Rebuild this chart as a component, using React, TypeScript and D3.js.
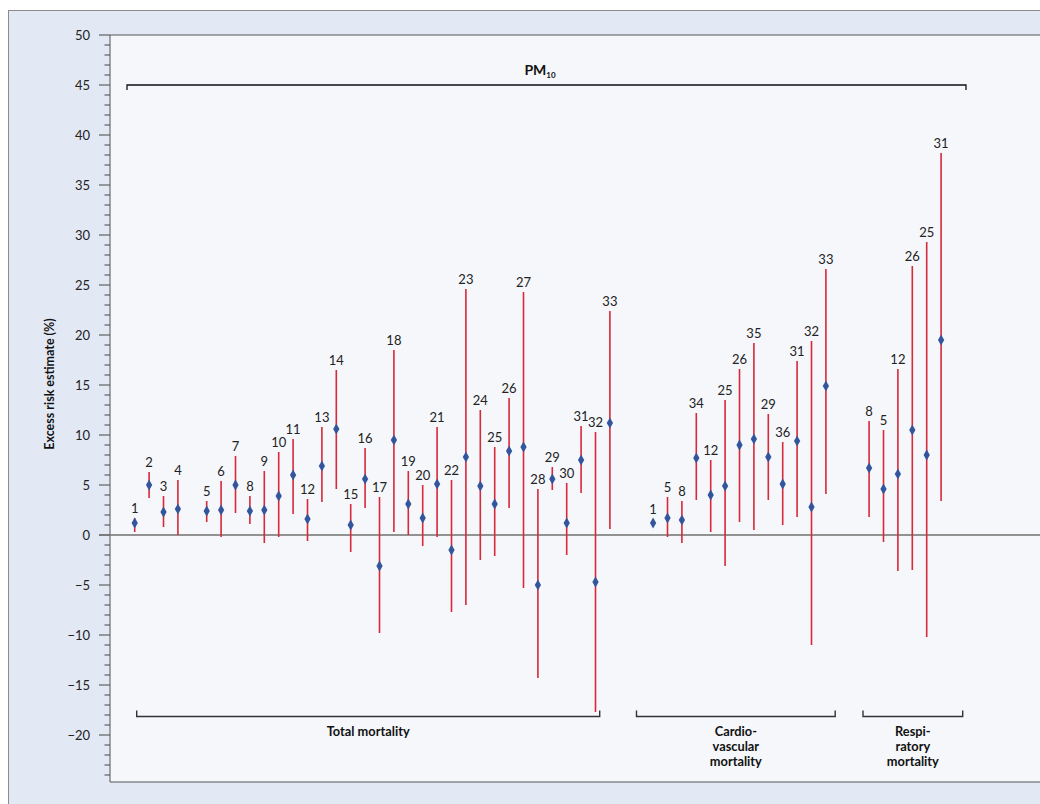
import React from "react";
import * as d3 from "d3";

// ---- Data ----
// Total mortality (null = empty slot)
const totalStudy = ["1","2","3","4",null,"5","6","7","8","9","10","11","12","13","14","15","16","17","18","19","20","21","22","23","24","25","26","27","28","29","30","31","32","33"];
const totalEst = [1.2,5.0,2.3,2.6,null,2.4,2.5,5.0,2.4,2.5,3.9,6.0,1.6,6.9,10.6,1.0,5.6,-3.1,9.5,3.1,1.7,5.1,-1.5,7.8,4.9,3.1,8.4,8.8,-5.0,5.6,1.2,7.5,-4.7,11.2];
const totalLo = [0.3,3.7,0.8,0.0,null,1.3,-0.2,2.2,1.1,-0.8,-0.2,2.1,-0.6,3.3,4.6,-1.7,2.7,-9.8,0.3,0.0,-1.1,-0.2,-7.7,-7.0,-2.5,-2.1,2.7,-5.3,-14.3,4.5,-2.0,4.2,-17.7,0.6];
const totalHi = [1.7,6.3,3.9,5.5,null,3.4,5.4,7.9,3.9,6.4,8.3,9.6,3.6,10.8,16.5,3.1,8.7,3.8,18.5,6.4,5.0,10.8,5.5,24.6,12.5,8.8,13.7,24.3,4.6,6.8,5.2,10.9,10.3,22.4];

// Cardiovascular mortality
const cvStudy = ["1","5","8","34","12","25","26","35","29","36","31","32","33"];
const cvEst = [1.2,1.7,1.5,7.7,4.0,4.9,9.0,9.6,7.8,5.1,9.4,2.8,14.9];
const cvLo = [0.8,-0.2,-0.8,3.5,0.3,-3.1,1.3,0.5,3.5,1.0,1.8,-11.0,4.1];
const cvHi = [1.6,3.8,3.4,12.2,7.5,13.5,16.6,19.2,12.1,9.3,17.4,19.4,26.6];

// Respiratory mortality
const respStudy = ["8","5","12","26","25","31"];
const respEst = [6.7,4.6,6.1,10.5,8.0,19.5];
const respLo = [1.8,-0.7,-3.6,-3.5,-10.2,3.4];
const respHi = [11.4,10.5,16.6,26.9,29.3,38.2];

const groupNames = ["Total mortality", "Cardio-\nvascular\nmortality", "Respi-\nratory\nmortality"];
const yTicksMajor = [-20,-15,-10,-5,0,5,10,15,20,25,30,35,40,45,50];
const yTitle = "Excess risk estimate (%)";
const pollutant = "PM";
const pollutantSub = "10";

// ---- Build slot domain ----
type Pt = { key: string; label: string; est: number; lo: number; hi: number };
type Group = { name: string; keys: string[]; pts: Pt[] };

function buildGroup(prefix: string, name: string, study: (string|null)[], est: (number|null)[], lo: (number|null)[], hi: (number|null)[]): Group {
  const keys: string[] = [];
  const pts: Pt[] = [];
  study.forEach((s, i) => {
    const key = `${prefix}${i}`;
    keys.push(key);
    if (s !== null) pts.push({ key, label: s, est: est[i] as number, lo: lo[i] as number, hi: hi[i] as number });
  });
  return { name, keys, pts };
}

const groups: Group[] = [
  buildGroup("t", groupNames[0], totalStudy, totalEst, totalLo, totalHi),
  buildGroup("c", groupNames[1], cvStudy, cvEst, cvLo, cvHi),
  buildGroup("r", groupNames[2], respStudy, respEst, respLo, respHi),
];

const domain: string[] = [];
groups.forEach((g, gi) => {
  if (gi > 0) { domain.push(`gap${gi}a`, `gap${gi}b`); }
  domain.push(...g.keys);
});

const W = 1040, H = 804;
const FONT = "Lato, 'Open Sans', sans-serif";

export default function App() {
  const y = d3.scaleLinear().domain([-24.7, 50]).range([782, 35]);
  const x = d3.scalePoint<string>().domain(domain).range([134.7, 941.1]).padding(0);
  const plotL = 110, plotT = 35, plotB = 782;
  const minorTicks = d3.range(-24, 51, 1).filter((v) => v % 5 !== 0);
  const allPts = groups.flatMap((g) => g.pts);
  const diamond = d3.symbol().type(d3.symbolDiamond).size(34)() as string;

  const brackets = [
    { x0: 136.7, x1: 599.7 },
    { x0: 636.5, x1: 835.2 },
    { x0: 863, x1: 962.7 },
  ];
  const bracketY = 716.5;

  return (
    <svg width={W} height={H} style={{ display: "block", position: "absolute", left: 0, top: 0 }} fontFamily={FONT}>
      {/* outer panel */}
      <rect x={8} y={10} width={W - 8} height={H - 10} fill="#e3e9f4" />
      <line x1={8} y1={10.5} x2={W} y2={10.5} stroke="#8c8c8c" strokeWidth={1} />
      <line x1={8.5} y1={10} x2={8.5} y2={H} stroke="#8c8c8c" strokeWidth={1} />
      {/* plot area */}
      <rect x={plotL} y={plotT} width={W - plotL} height={plotB - plotT} fill="#f5f7fb" />
      <line x1={plotL} y1={plotT} x2={W} y2={plotT} stroke="#555" strokeWidth={1} />
      <line x1={plotL} y1={plotB} x2={W} y2={plotB} stroke="#555" strokeWidth={1} />
      <line x1={plotL} y1={plotT} x2={plotL} y2={plotB} stroke="#555" strokeWidth={1} />

      {/* y ticks */}
      {minorTicks.map((v) => (
        <line key={`m${v}`} x1={104.5} x2={plotL} y1={y(v)} y2={y(v)} stroke="#444" strokeWidth={1} />
      ))}
      {yTicksMajor.map((v) => (
        <g key={`M${v}`}>
          <line x1={99} x2={plotL} y1={y(v)} y2={y(v)} stroke="#444" strokeWidth={1} />
          <text x={90} y={y(v)} dy="0.35em" textAnchor="end" fontSize={13} fill="#222">
            {v < 0 ? `\u2212${Math.abs(v)}` : v}
          </text>
        </g>
      ))}
      <text transform={`translate(50,${384}) rotate(-90)`} textAnchor="middle" fontSize={12.5} fontWeight="bold" fill="#111" dy="0.35em">
        {yTitle}
      </text>

      {/* zero line */}
      <line x1={99} x2={W} y1={y(0)} y2={y(0)} stroke="#707070" strokeWidth={1.6} />

      {/* PM10 bracket */}
      <path d={`M127,${y(45) + 5}V${y(45)}H966V${y(45) + 5}`} fill="none" stroke="#111" strokeWidth={1.3} />
      <text x={540} y={75} textAnchor="middle" fontSize={14} fontWeight="bold" fill="#111">
        {pollutant}
        <tspan fontSize={8} dy={3}>{pollutantSub}</tspan>
      </text>

      {/* error bars */}
      {allPts.map((p) => (
        <line key={`e${p.key}`} x1={x(p.key)} x2={x(p.key)} y1={y(p.hi)} y2={y(p.lo)} stroke="#d9283a" strokeWidth={1.6} />
      ))}
      {allPts.map((p) => (
        <path key={`d${p.key}`} d={diamond} transform={`translate(${x(p.key)},${y(p.est)})`} fill="#34559c" />
      ))}
      {allPts.map((p) => (
        <text key={`l${p.key}`} x={x(p.key)} y={y(p.hi) - 5} textAnchor="middle" fontSize={13} fill="#222">
          {p.label}
        </text>
      ))}

      {/* group brackets */}
      {groups.map((g, i) => {
        const b = brackets[i];
        const lines = g.name.split("\n");
        const cx = (b.x0 + b.x1) / 2;
        return (
          <g key={`g${i}`}>
            <path d={`M${b.x0},${bracketY - 6}V${bracketY}H${b.x1}V${bracketY - 6}`} fill="none" stroke="#333" strokeWidth={1.4} />
            {lines.map((ln, j) => (
              <text key={j} x={cx} y={(lines.length > 1 ? 735.5 : 736) + j * 15.3} textAnchor="middle" fontSize={12.8} fontWeight="bold" fill="#111">
                {ln}
              </text>
            ))}
          </g>
        );
      })}
    </svg>
  );
}
